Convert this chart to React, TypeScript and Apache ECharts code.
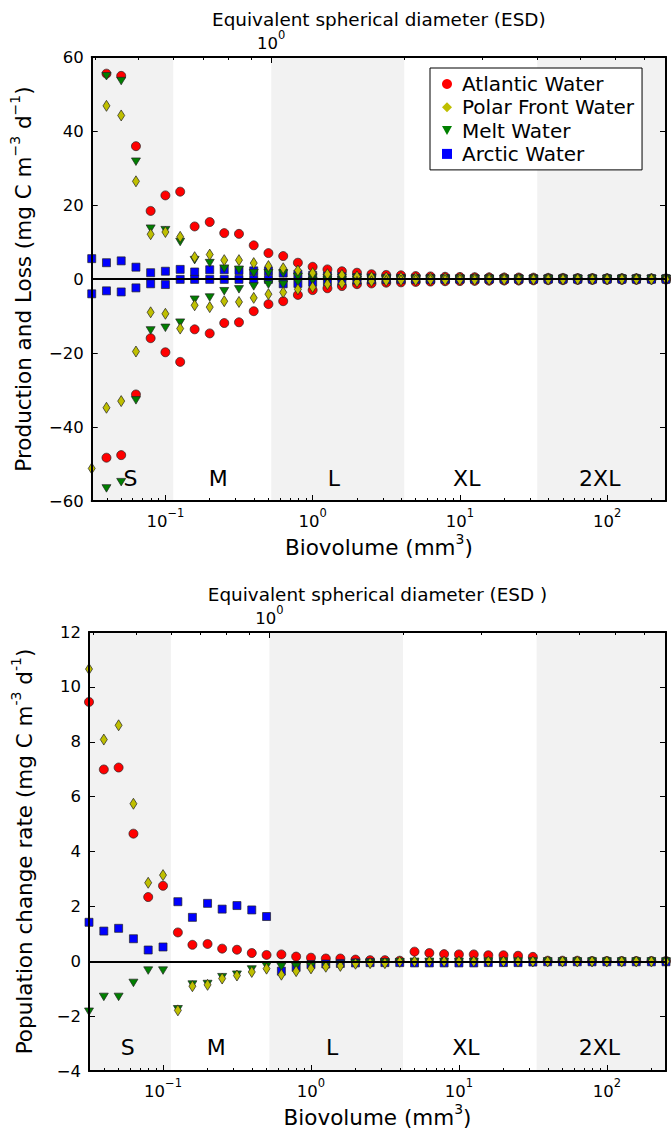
import React, { useEffect, useRef } from "react";
import * as echarts from "echarts";

// Biovolume bin centres (mm^3)
const biovolume = [
  0.0316, 0.0398, 0.0501, 0.0631, 0.0794, 0.1, 0.126, 0.158, 0.2, 0.251,
  0.316, 0.398, 0.501, 0.631, 0.794, 1, 1.26, 1.58, 2, 2.51,
  3.16, 3.98, 5.01, 6.31, 7.94, 10, 12.6, 15.8, 20, 25.1,
  31.6, 39.8, 50.1, 63.1, 79.4, 100, 126, 158, 200, 251,
];

// Top panel: production (+) and loss (-), mg C m-3 d-1
const atlanticProduction = [
  null, 55.5, 54.9, 35.9, 18.4, 22.6, 23.6, 14.2, 15.4, 12.4,
  12.2, 9.1, 7.0, 6.2, 4.4, 3.3, 2.6, 2.1, 1.7, 1.3,
  1.1, 1.0, 0.8, 0.7, 0.6, 0.55, 0.5, 0.45, 0.4, 0.4,
  0.35, 0.3, 0.3, 0.25, 0.25, 0.2, 0.2, 0.2, 0.15, 0.15,
];
const atlanticLoss = [
  null, -48.3, -47.6, -31.2, -16.0, -19.8, -22.4, -13.6, -14.7, -11.9,
  -11.7, -8.7, -6.8, -6.0, -4.3, -3.0, -2.5, -1.9, -1.4, -1.2,
  -1.0, -0.9, -0.8, -0.7, -0.6, -0.55, -0.5, -0.45, -0.4, -0.4,
  -0.35, -0.3, -0.3, -0.25, -0.25, -0.2, -0.2, -0.2, -0.15, -0.15,
];
const polarFrontProduction = [
  null, 46.8, 44.2, 26.4, 12.1, 12.7, 11.4, 5.9, 6.6, 5.1,
  5.1, 4.3, 3.5, 2.9, 2.3, 1.6, 1.3, 1.1, 0.7, 0.5,
  0.4, 0.35, 0.3, 0.3, 0.25, 0.25, 0.2, 0.2, 0.2, 0.15,
  0.15, 0.15, 0.1, 0.1, 0.1, 0.1, 0.1, 0.1, 0.1, 0.1,
];
const polarFrontLoss = [
  -51.2, -34.8, -33.0, -19.6, -9.0, -9.4, -13.4, -7.1, -7.6, -6.0,
  -6.2, -5.1, -4.1, -3.6, -2.8, -2.2, -1.4, -1.2, -0.8, -0.6,
  -0.5, -0.4, -0.35, -0.3, -0.3, -0.25, -0.25, -0.2, -0.2, -0.2,
  -0.15, -0.15, -0.15, -0.1, -0.1, -0.1, -0.1, -0.1, -0.1, -0.1,
];
const meltProduction = [
  null, 54.8, 53.5, 31.7, 13.6, 13.2, 10.0, 5.1, 4.3, 2.8,
  2.5, 1.6, 1.6, 1.5, 0.6, 0.4, 0.3, 0.25, 0.2, 0.15,
  0.1, 0.1, 0.1, 0.1, 0.1, 0.1, 0.05, 0.05, 0.05, 0.05,
  0.05, 0.05, 0.05, 0.05, 0.05, 0.05, 0.05, 0.05, 0.05, 0.05,
];
const meltLoss = [
  null, -56.6, -54.9, -32.8, -13.9, -13.2, -11.8, -5.6, -5.0, -3.3,
  -2.8, -2.0, -1.5, -1.5, -0.9, -0.5, -0.4, -0.3, -0.25, -0.2,
  -0.15, -0.1, -0.1, -0.1, -0.1, -0.1, -0.05, -0.05, -0.05, -0.05,
  -0.05, -0.05, -0.05, -0.05, -0.05, -0.05, -0.05, -0.05, -0.05, -0.05,
];
const arcticProduction = [
  5.5, 4.4, 4.9, 3.2, 1.7, 2.1, 2.6, 1.9, 2.5, 2.5,
  2.3, 2.2, 2.2, 1.6, 1.3, 1.0, 0.8, 0.6, 0.4, 0.3,
  0.2, 0.15, 0.1, 0.1, 0.1, 0.05, 0.05, 0.05, 0.05, 0.05,
  0.05, 0.05, 0.05, 0.05, 0.05, 0.05, 0.05, 0.05, 0.05, 0.05,
];
const arcticLoss = [
  -4.0, -3.2, -3.5, -2.4, -1.3, -1.5, -0.1, -0.1, -0.1, -0.1,
  -0.1, -0.1, -0.1, -1.3, -1.2, -0.9, -0.7, -0.5, -0.3, -0.2,
  -0.15, -0.1, -0.1, -0.1, -0.1, -0.05, -0.05, -0.05, -0.05, -0.05,
  -0.05, -0.05, -0.05, -0.05, -0.05, -0.05, -0.05, -0.05, -0.05, -0.05,
];

// Bottom panel: population change rate, mg C m-3 d-1
const atlanticRate = [
  9.45, 6.99, 7.06, 4.65, 2.34, 2.75, 1.05, 0.6, 0.63, 0.46,
  0.42, 0.3, 0.23, 0.25, 0.17, 0.13, 0.1, 0.1, 0.06, 0.04,
  0.04, 0.02, 0.35, 0.3, 0.26, 0.25, 0.25, 0.22, 0.22, 0.2,
  0.16, 0.02, 0.02, 0.02, 0.01, 0.01, 0.01, 0.01, 0.01, 0.01,
];
const polarFrontRate = [
  10.65, 8.08, 8.6, 5.74, 2.86, 3.14, -1.79, -0.91, -0.86, -0.63,
  -0.52, -0.39, -0.27, -0.49, -0.36, -0.26, -0.2, -0.17, -0.09, -0.07,
  -0.07, -0.02, -0.01, -0.01, -0.01, -0.01, -0.01, -0.01, -0.01, -0.01,
  -0.01, -0.01, -0.01, -0.01, -0.01, -0.01, -0.01, -0.01, -0.01, -0.01,
];
const meltRate = [
  -1.84, -1.3, -1.3, -0.79, -0.34, -0.34, -1.75, -0.85, -0.83, -0.58,
  -0.49, -0.3, -0.18, -0.2, -0.2, -0.18, -0.15, -0.12, -0.08, -0.06,
  -0.05, -0.03, -0.02, -0.02, -0.02, -0.02, -0.02, -0.01, -0.01, -0.01,
  -0.01, -0.01, -0.01, -0.01, -0.01, -0.01, -0.01, -0.01, -0.01, -0.01,
];
const arcticRate = [
  1.42, 1.1, 1.2, 0.82, 0.41, 0.52, 2.17, 1.6, 2.11, 1.9,
  2.03, 1.87, 1.63, -0.36, -0.22, -0.12, -0.1, -0.08, -0.06, -0.05,
  -0.05, -0.05, -0.06, -0.06, -0.06, -0.06, -0.06, -0.05, -0.05, -0.05,
  -0.03, -0.02, -0.02, -0.02, -0.02, -0.02, -0.02, -0.02, -0.02, -0.02,
];

const waterNames = ["Atlantic Water", "Polar Front Water", "Melt Water", "Arctic Water"];
const sizeClasses = ["S", "M", "L", "XL", "2XL"];
const sizeClassEsdEdges = [0.4, 0.6, 1, 2, 4, 8];
const shadedClasses = [0, 2, 4];
const biovolumeMajorTicks = [0.1, 1, 10, 100];
const biovolumeMinorMultipliers = [2, 3, 4, 5, 6, 7, 8, 9];
const biovolumeDecades = [0.01, 0.1, 1, 10, 100];
const esdMajorTicks = [1];
const esdMinorTicks = [0.3, 0.4, 0.5, 0.6, 0.7, 0.8, 0.9, 2, 3, 4, 5, 6, 7, 8, 9];

const FONT = "DejaVu Sans";
const MINUS = "\u2212";
const SHADE = "#f2f2f2";

const esdToVol = (d: number) => (Math.PI / 6) * d * d * d;
const xMin = biovolume[0];
const xMax = biovolume[biovolume.length - 1];

const minorBio: number[] = [];
biovolumeDecades.forEach((dec) =>
  biovolumeMinorMultipliers.forEach((m) => {
    const v = +(m * dec).toPrecision(3);
    if (v > xMin && v < xMax) minorBio.push(v);
  })
);
const esdMajorVol = esdMajorTicks.map(esdToVol);
const esdMinorVol = esdMinorTicks.map(esdToVol).filter((v) => v > xMin && v < xMax);

const DIAMOND_PATH = "path://M5,0L10,5L5,10L0,5Z";
const TRI_DOWN_PATH = "path://M0,0L10,0L5,9Z";
const SQUARE_PATH = "path://M0,0L10,0L10,10L0,10Z";

const waterStyles: Record<string, any> = {
  "Atlantic Water": { color: "#ff0000", symbol: "circle", size: 9, legendIcon: "circle" },
  "Polar Front Water": { color: "#bfbf00", symbol: "diamond", size: [7, 11], legendIcon: DIAMOND_PATH },
  "Melt Water": { color: "#008000", symbol: TRI_DOWN_PATH, size: [9, 7.5], legendIcon: TRI_DOWN_PATH },
  "Arctic Water": { color: "#0000ff", symbol: "rect", size: 8, legendIcon: SQUARE_PATH },
};
const drawOrder = ["Atlantic Water", "Arctic Water", "Melt Water", "Polar Front Water"];

const panels = [
  {
    top: 57,
    height: 444,
    yMin: -60,
    yMax: 60,
    yInterval: 20,
    yName: "Production and Loss (mg C m{s|\u22123} d{s|\u22121})",
    esdName: "Equivalent spherical diameter (ESD)",
    classLabelY: -54,
    values: {
      "Atlantic Water": [atlanticProduction, atlanticLoss],
      "Polar Front Water": [polarFrontProduction, polarFrontLoss],
      "Melt Water": [meltProduction, meltLoss],
      "Arctic Water": [arcticProduction, arcticLoss],
    } as Record<string, (number | null)[][]>,
  },
  {
    top: 632,
    height: 442,
    yMin: -4,
    yMax: 12,
    yInterval: 2,
    yName: "Population change rate (mg C m{s|-3} d{s|-1})",
    esdName: "Equivalent spherical diameter (ESD )",
    classLabelY: -3.15,
    values: {
      "Atlantic Water": [atlanticRate],
      "Polar Front Water": [polarFrontRate],
      "Melt Water": [meltRate],
      "Arctic Water": [arcticRate],
    } as Record<string, (number | null)[][]>,
  },
];

const expRich = {
  b: { fontSize: 16.5, lineHeight: 28, fontFamily: FONT, color: "#000" },
  s: { fontSize: 11.5, verticalAlign: "top", fontFamily: FONT, color: "#000" },
};
const supRich = {
  s: { fontSize: 14, verticalAlign: "top", fontFamily: FONT, color: "#000" },
};

const expLabel = (v: number) => {
  const e = Math.round(Math.log10(v));
  return `{b|10}{s|${e < 0 ? MINUS + Math.abs(e) : e}}`;
};

function buildOption() {
  const grid: any[] = [];
  const xAxis: any[] = [];
  const yAxis: any[] = [];
  const series: any[] = [];
  const black = { color: "#000", width: 2 };

  panels.forEach((p, k) => {
    grid.push({ left: 89, top: p.top, width: 577, height: p.height, containLabel: false });
    const baseX = {
      type: "log",
      logBase: 10,
      gridIndex: k,
      min: xMin,
      max: xMax,
      splitLine: { show: false },
      minorTick: { show: false },
      minorSplitLine: { show: false },
      z: 3,
    };
    xAxis.push({
      ...baseX,
      position: "bottom",
      axisLine: { show: true, onZero: false, lineStyle: black },
      axisTick: { show: true, inside: true, length: 6, customValues: biovolumeMajorTicks, lineStyle: { color: "#000", width: 1 } },
      axisLabel: { show: true, customValues: biovolumeMajorTicks, formatter: expLabel, margin: 6, rich: expRich },
      name: "Biovolume (mm{s|3})",
      nameLocation: "middle",
      nameGap: 31,
      nameTextStyle: { fontFamily: FONT, fontSize: 21.5, color: "#000", lineHeight: 30, rich: supRich },
    });
    xAxis.push({
      ...baseX,
      position: "bottom",
      axisLine: { show: false, onZero: false },
      axisTick: { show: true, inside: true, length: 3, customValues: minorBio, lineStyle: { color: "#000", width: 1 } },
      axisLabel: { show: false },
    });
    xAxis.push({
      ...baseX,
      position: "top",
      axisLine: { show: true, onZero: false, lineStyle: black },
      axisTick: { show: true, inside: true, length: 6, customValues: esdMajorVol, lineStyle: { color: "#000", width: 1 } },
      axisLabel: { show: true, customValues: esdMajorVol, formatter: () => "{b|10}{s|0}", margin: 0, rich: expRich },
      name: p.esdName,
      nameLocation: "middle",
      nameGap: 29,
      nameTextStyle: { fontFamily: FONT, fontSize: 18.4, color: "#000" },
    });
    xAxis.push({
      ...baseX,
      position: "top",
      axisLine: { show: false, onZero: false },
      axisTick: { show: true, inside: true, length: 3, customValues: esdMinorVol, lineStyle: { color: "#000", width: 1 } },
      axisLabel: { show: false },
    });

    const baseY = {
      type: "value",
      gridIndex: k,
      min: p.yMin,
      max: p.yMax,
      interval: p.yInterval,
      splitLine: { show: false },
      z: 3,
    };
    yAxis.push({
      ...baseY,
      position: "left",
      axisLine: { show: true, onZero: false, lineStyle: black },
      axisTick: { show: true, inside: true, length: 6, lineStyle: { color: "#000", width: 1 } },
      axisLabel: {
        fontFamily: FONT,
        fontSize: 16.5,
        color: "#000",
        margin: 8,
        formatter: (v: number) => (v < 0 ? MINUS + Math.abs(v) : String(v)),
      },
      name: p.yName,
      nameLocation: "middle",
      nameGap: 50,
      nameTextStyle: { fontFamily: FONT, fontSize: 21.5, color: "#000", lineHeight: 30, rich: supRich },
    });
    yAxis.push({
      ...baseY,
      position: "right",
      axisLine: { show: true, onZero: false, lineStyle: black },
      axisTick: { show: true, inside: true, length: 6, lineStyle: { color: "#000", width: 1 } },
      axisLabel: { show: false },
    });

    const bands = shadedClasses.map((c) => [
      { xAxis: c === 0 ? xMin : esdToVol(sizeClassEsdEdges[c]) },
      { xAxis: Math.min(esdToVol(sizeClassEsdEdges[c + 1]), xMax) },
    ]);
    series.push({
      type: "scatter",
      name: "size classes",
      xAxisIndex: k * 4,
      yAxisIndex: k * 2,
      silent: true,
      symbolSize: 0,
      z: 2,
      itemStyle: { color: "#000", opacity: 1 },
      data: sizeClasses.map((name, c) => ({
        name,
        value: [esdToVol(Math.sqrt(sizeClassEsdEdges[c] * sizeClassEsdEdges[c + 1])), p.classLabelY],
      })),
      label: {
        show: true,
        position: "inside",
        offset: [-4, 0],
        formatter: "{b}",
        fontFamily: FONT,
        fontSize: 22,
        color: "#000",
        opacity: 1,
        textBorderWidth: 0,
        textBorderColor: "transparent",
      },
      markArea: {
        silent: true,
        itemStyle: { color: SHADE, borderWidth: 0 },
        data: bands,
      },
      markLine: {
        silent: true,
        symbol: "none",
        label: { show: false },
        lineStyle: { color: "#000", width: 2, type: "solid" },
        data: [{ yAxis: 0 }],
        z: 5,
      },
    });

    drawOrder.forEach((name) => {
      const st = waterStyles[name];
      const data: number[][] = [];
      p.values[name].forEach((arr) =>
        arr.forEach((v, i) => {
          if (v !== null && v !== undefined) data.push([biovolume[i], v]);
        })
      );
      series.push({
        type: "scatter",
        name,
        xAxisIndex: k * 4,
        yAxisIndex: k * 2,
        symbol: st.symbol,
        symbolSize: st.size,
        itemStyle: { color: st.color, borderColor: "#222", borderWidth: 0.7, opacity: 1 },
        emphasis: { disabled: true },
        z: 2,
        data,
      });
    });
  });

  return {
    animation: false,
    backgroundColor: "#fff",
    textStyle: { fontFamily: FONT },
    grid,
    xAxis,
    yAxis,
    legend: {
      show: true,
      orient: "vertical",
      left: 430,
      top: 68,
      padding: [6, 8, 6, 12],
      itemGap: 3.3,
      itemWidth: 10,
      itemHeight: 10,
      selectedMode: false,
      backgroundColor: "#fff",
      borderColor: "#000",
      borderWidth: 1,
      itemStyle: { borderWidth: 0 },
      textStyle: { fontFamily: FONT, fontSize: 20, color: "#000", lineHeight: 20, padding: [0, 0, 0, 5] },
      data: waterNames.map((n) => ({ name: n, icon: waterStyles[n].legendIcon })),
    },
    series,
  };
}

export default function App() {
  const ref = useRef<HTMLDivElement>(null);
  useEffect(() => {
    if (!ref.current) return;
    const chart = echarts.init(ref.current, null, { renderer: "svg" });
    chart.setOption(buildOption() as any);
    return () => chart.dispose();
  }, []);
  return (
    <div
      ref={ref}
      style={{ position: "absolute", left: 0, top: 0, width: 672, height: 1133, background: "#fff" }}
    />
  );
}
